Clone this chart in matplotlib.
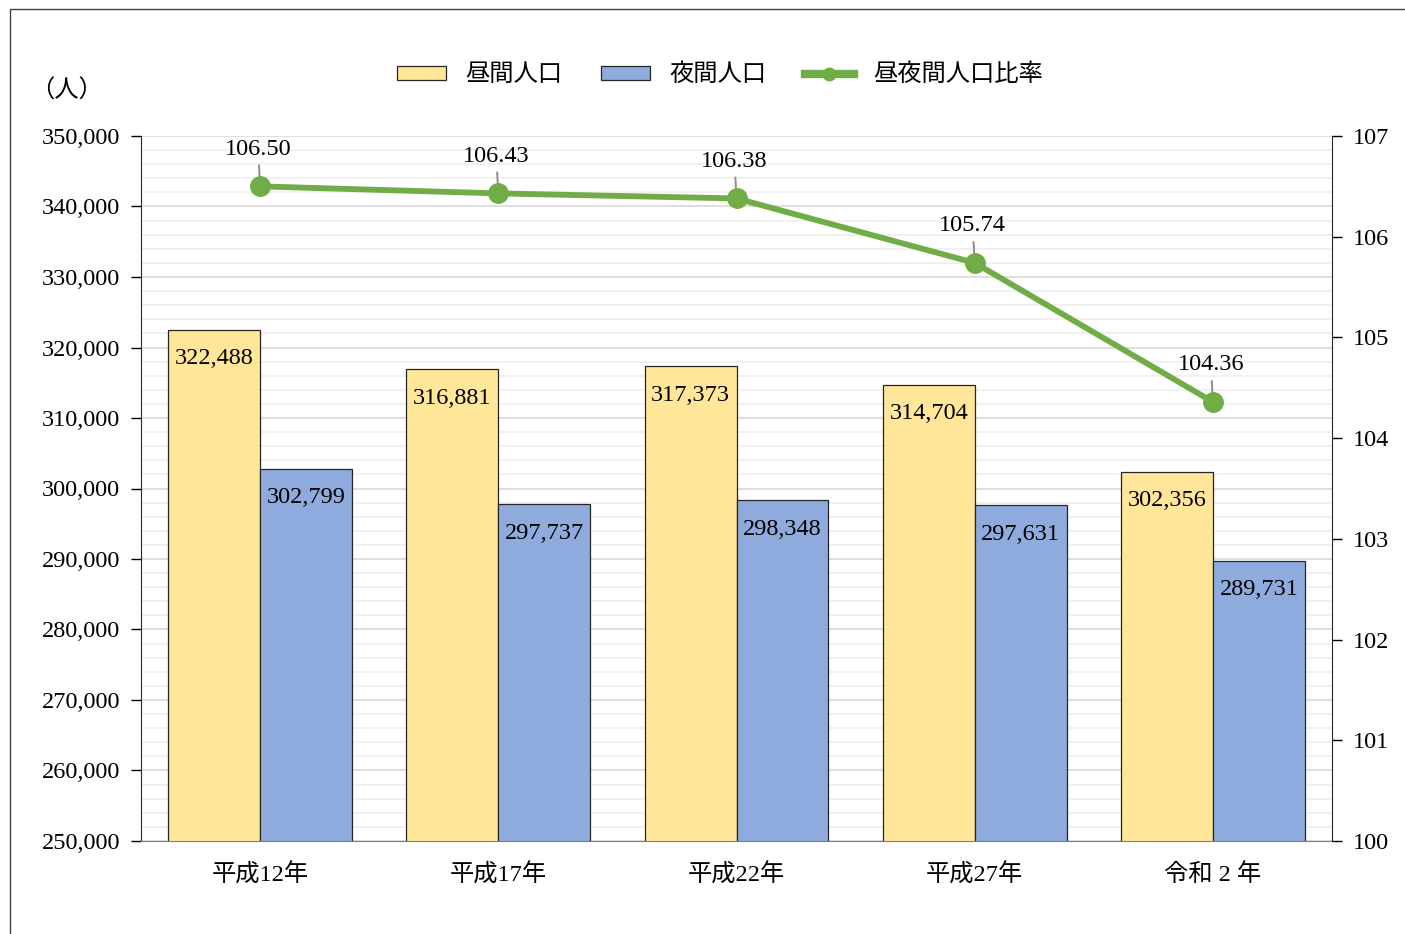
import numpy as np
import matplotlib.pyplot as plt
from matplotlib.lines import Line2D
from matplotlib.patches import Rectangle, Patch
from matplotlib.ticker import MultipleLocator, FuncFormatter

plt.rcParams['font.family'] = ['Liberation Serif', 'Noto Sans CJK JP']
plt.rcParams['font.size'] = 17.5

# data
categories = ['平成12年', '平成17年', '平成22年', '平成27年', '令和 2 年']
daytime = [322488, 316881, 317373, 314704, 302356]
nighttime = [302799, 297737, 298348, 297631, 289731]
ratio = [106.50, 106.43, 106.38, 105.74, 104.36]

YELLOW = '#FFE699'
BLUE = '#8FAADC'
GREEN = '#70AD47'

fig = plt.figure(figsize=(14.05, 9.34), dpi=100, facecolor='white')
# outer chart frame
fig.patches.append(Rectangle((10 / 1405, -0.1), 1.2, (934 - 9) / 934 + 0.1,
                             transform=fig.transFigure, fill=False,
                             edgecolor='#404040', linewidth=1.0))

ax = fig.add_axes([141 / 1405, 93 / 934, 1191 / 1405, 705 / 934])
x = np.arange(len(categories))
w = 0.386

ax.bar(x - w / 2, daytime, w, color=YELLOW, edgecolor='#262626', linewidth=0.9, zorder=2)
ax.bar(x + w / 2, nighttime, w, color=BLUE, edgecolor='#262626', linewidth=0.9, zorder=2)

ax.set_xlim(-0.5, len(categories) - 0.5)
ax.set_ylim(250000, 350000)
ax.yaxis.set_major_locator(MultipleLocator(10000))
ax.yaxis.set_minor_locator(MultipleLocator(2000))
ax.yaxis.set_major_formatter(FuncFormatter(lambda v, p: f'{int(v):,}'))
ax.grid(axis='y', which='major', color='#d9d9d9', linewidth=1.2)
ax.grid(axis='y', which='minor', color='#efefef', linewidth=1.2)
ax.set_axisbelow(True)
ax.tick_params(axis='y', which='major', length=7, width=1, pad=8, colors='black')
ax.tick_params(axis='y', which='minor', length=0)
ax.set_xticks(x)
ax.set_xticklabels(categories)
ax.tick_params(axis='x', length=0, pad=16)
ax.spines['top'].set_visible(False)
ax.spines['right'].set_visible(False)
ax.spines['left'].set_color('#262626')
ax.spines['bottom'].set_color('#7f7f7f')

for i in range(len(categories)):
    ax.annotate(f'{daytime[i]:,}', (x[i] - w / 2, daytime[i]), xytext=(0, -29),
                textcoords='offset pixels', ha='center', va='center', zorder=5)
    ax.annotate(f'{nighttime[i]:,}', (x[i] + w / 2, nighttime[i]), xytext=(0, -29),
                textcoords='offset pixels', ha='center', va='center', zorder=5)

ax2 = ax.twinx()
ax2.set_ylim(100, 107)
ax2.yaxis.set_major_locator(MultipleLocator(1))
ax2.tick_params(axis='y', length=7, width=1, pad=8, colors='black')
ax2.spines['top'].set_visible(False)
ax2.spines['left'].set_visible(False)
ax2.spines['bottom'].set_visible(False)
ax2.spines['right'].set_color('#262626')
ax2.plot(x, ratio, color=GREEN, linewidth=4.2, marker='o', markersize=14, zorder=4)

for i in range(len(categories)):
    ax2.annotate(f'{ratio[i]:.2f}', (x[i], ratio[i]), xytext=(-2, 37),
                 textcoords='offset pixels', ha='center', va='center',
                 arrowprops=dict(arrowstyle='-', color='#8c8c8c', lw=1.4,
                                 shrinkA=2, shrinkB=0), zorder=3)

fig.text(30 / 1405, 1 - 91 / 934, '（人）', ha='left', va='center')

handles = [Patch(facecolor=YELLOW, edgecolor='#262626', linewidth=0.9),
           Patch(facecolor=BLUE, edgecolor='#262626', linewidth=0.9),
           Line2D([], [], color=GREEN, linewidth=6, marker='o', markersize=9)]
fig.legend(handles, ['昼間人口', '夜間人口', '昼夜間人口比率'], loc='center',
           bbox_to_anchor=(720 / 1405, 1 - 75 / 934), ncol=3, frameon=False,
           handlelength=2.0, handleheight=0.5, handletextpad=0.8, columnspacing=1.6)

fig.savefig('out.png', dpi=100)
